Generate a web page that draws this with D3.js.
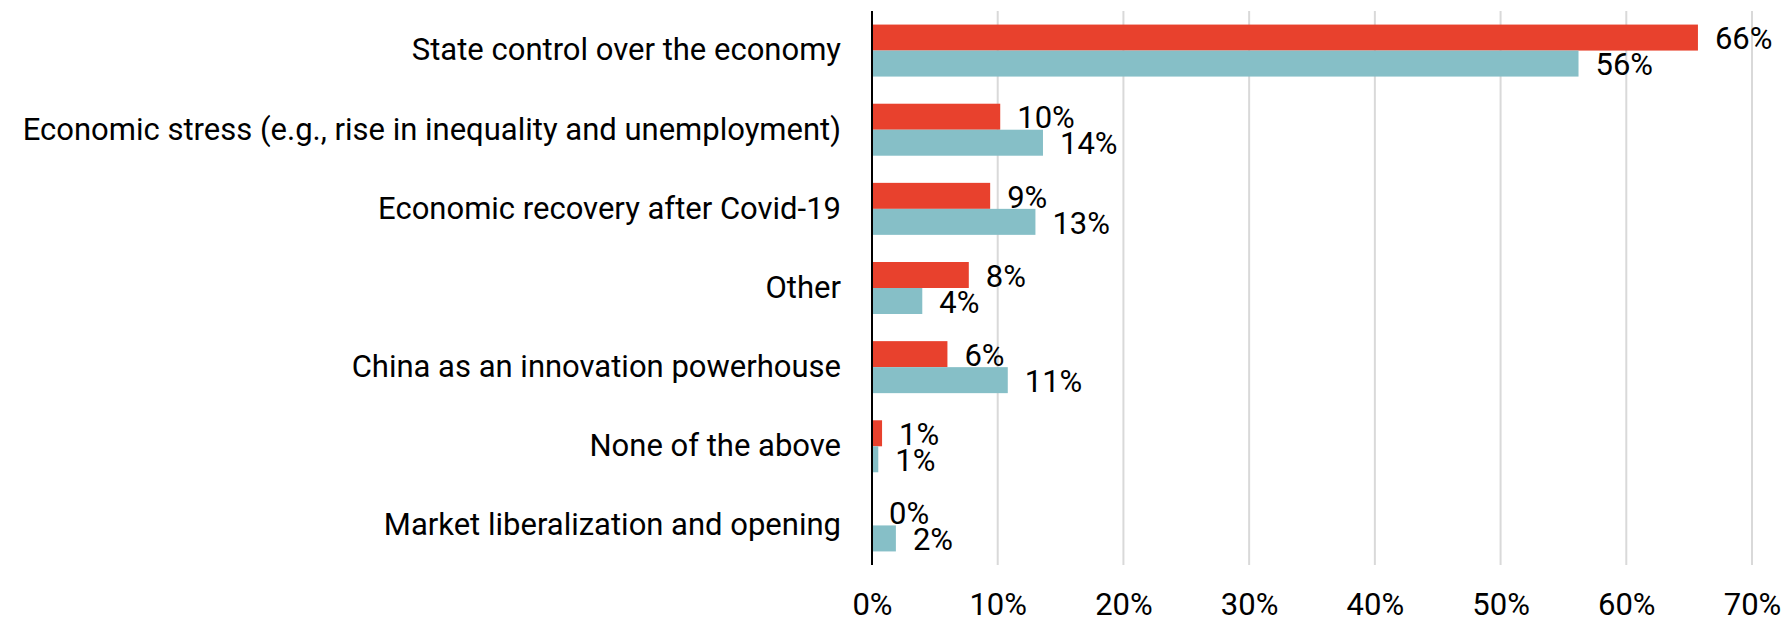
<!DOCTYPE html>
<html>
<head>
<meta charset="utf-8">
<script src="https://cdn.jsdelivr.net/npm/d3@7"></script>
<style>
  body { margin: 0; background: #fff; }
  svg text { font-family: Roboto, "Liberation Sans", sans-serif; fill: #000; }
</style>
</head>
<body>
<div id="chart"></div>
<script>
// Categories, top to bottom
const categories = [
  "State control over the economy",
  "Economic stress (e.g., rise in inequality and unemployment)",
  "Economic recovery after Covid-19",
  "Other",
  "China as an innovation powerhouse",
  "None of the above",
  "Market liberalization and opening",
];

// Series values (%)
const redValues = [65.7, 10.2, 9.4, 7.7, 6.0, 0.8, 0];
const tealValues = [56.2, 13.6, 13.0, 4.0, 10.8, 0.5, 1.9];

const xTicks = [0, 10, 20, 30, 40, 50, 60, 70];

const width = 1787;
const height = 621;
const margin = { top: 11, right: 35, bottom: 56, left: 872 };
const innerW = 880;
const innerH = height - margin.top - margin.bottom;
const fontSize = "31px";

const svg = d3
  .select("#chart")
  .append("svg")
  .attr("width", width)
  .attr("height", height);

const g = svg
  .append("g")
  .attr("transform", `translate(${margin.left},${margin.top})`);

const x = d3.scaleLinear().domain([0, 70]).range([0, innerW]);
const y = d3.scaleBand().domain(categories).range([0, innerH]);

const barH = 26;
const groupOffset = (y.bandwidth() - barH * 2) / 2;

/* ---------- Grid ---------- */
g.selectAll(".grid")
  .data(xTicks.filter((d) => d > 0))
  .enter()
  .append("line")
  .attr("class", "grid")
  .attr("x1", (d) => x(d))
  .attr("x2", (d) => x(d))
  .attr("y1", 0)
  .attr("y2", innerH)
  .attr("stroke", "#d9d9d9")
  .attr("stroke-width", 2);

/* ---------- Bars ---------- */
const rows = categories.map((c, i) => ({
  cat: c,
  red: redValues[i],
  teal: tealValues[i],
}));

const series = [
  { key: "red", color: "#e8412d", offset: 0 },
  { key: "teal", color: "#86bfc7", offset: barH },
];

const fmt = (v) => d3.format(".0f")(v) + "%";

series.forEach((s) => {
  g.selectAll(`.bar-${s.key}`)
    .data(rows)
    .enter()
    .append("rect")
    .attr("class", `bar-${s.key}`)
    .attr("x", x(0))
    .attr("y", (d) => y(d.cat) + groupOffset + s.offset)
    .attr("width", (d) => x(d[s.key]) - x(0))
    .attr("height", barH)
    .attr("fill", s.color);

  g.selectAll(`.label-${s.key}`)
    .data(rows)
    .enter()
    .append("text")
    .attr("class", `label-${s.key}`)
    .attr("x", (d) => x(d[s.key]) + 17)
    .attr("y", (d) => y(d.cat) + groupOffset + s.offset + barH / 2)
    .attr("dy", "0.38em")
    .attr("font-size", fontSize)
    .text((d) => fmt(d[s.key]));
});

/* ---------- Axes ---------- */
const xAxis = g
  .append("g")
  .attr("transform", `translate(0,${innerH})`)
  .call(
    d3.axisBottom(x)
      .tickValues(xTicks)
      .tickSize(0)
      .tickPadding(28)
      .tickFormat((d) => d + "%")
  );
xAxis.select(".domain").remove();
xAxis.selectAll("text").attr("font-size", fontSize).attr("font-family", null);

const yAxis = g
  .append("g")
  .call(d3.axisLeft(y).tickSize(0).tickPadding(31));
yAxis.select(".domain").remove();
yAxis.selectAll("text").attr("font-size", fontSize).attr("font-family", null);

g.append("line")
  .attr("x1", x(0))
  .attr("x2", x(0))
  .attr("y1", 0)
  .attr("y2", innerH)
  .attr("stroke", "#000")
  .attr("stroke-width", 2);
</script>
</body>
</html>
